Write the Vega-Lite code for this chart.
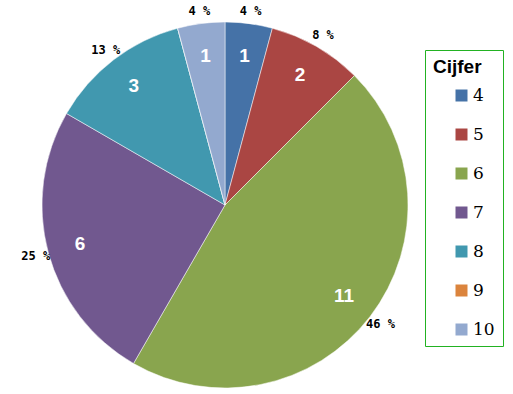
{
  "$schema": "https://vega.github.io/schema/vega-lite/v6.json",
  "width": 450,
  "height": 378,
  "autosize": {"type": "none"},
  "padding": {"left": 0, "top": 16, "right": 63, "bottom": 0},
  "background": "white",
  "data": {"values": [
    {"Cijfer": "4", "k": 4, "n": 1, "pct": "4 %"},
    {"Cijfer": "5", "k": 5, "n": 2, "pct": "8 %"},
    {"Cijfer": "6", "k": 6, "n": 11, "pct": "46 %"},
    {"Cijfer": "7", "k": 7, "n": 6, "pct": "25 %"},
    {"Cijfer": "8", "k": 8, "n": 3, "pct": "13 %"},
    {"Cijfer": "9", "k": 9, "n": 0, "pct": ""},
    {"Cijfer": "10", "k": 10, "n": 1, "pct": "4 %"}
  ]},
  "encoding": {
    "theta": {"field": "n", "type": "quantitative", "stack": true},
    "order": {"field": "k", "type": "quantitative"},
    "color": {
      "field": "Cijfer", "type": "nominal",
      "scale": {"domain": ["4","5","6","7","8","9","10"], "range": ["#4572A7","#AA4643","#89A54E","#71588F","#4198AF","#DB843D","#93A9CF"]},
      "legend": {
        "title": "Cijfer",
        "orient": "none",
        "legendX": 425,
        "legendY": 34,
        "strokeColor": "#22B222",
        "fillColor": "white",
        "padding": 8,
        "titleFont": "Liberation Sans",
        "titleFontSize": 19,
        "titleFontWeight": "bold",
        "titleColor": "black",
        "titlePadding": 10,
        "labelFont": "DejaVu Serif",
        "labelFontSize": 17,
        "labelColor": "black",
        "labelOffset": 3,
        "symbolType": "square",
        "symbolSize": 144,
        "symbolStrokeWidth": 0,
        "symbolOffset": 20,
        "rowPadding": 21,
        "labelLimit": 100
      }
    }
  },
  "layer": [
    {"mark": {"type": "arc", "outerRadius": 183, "stroke": "white", "strokeWidth": 0.5}},
    {
      "transform": [{"filter": "datum.n > 0"}],
      "mark": {"type": "text", "radius": 150, "font": "Liberation Sans", "fontSize": 19, "fontWeight": "bold", "fill": "white"},
      "encoding": {"text": {"field": "n", "type": "quantitative"}, "color": {"value": "white"}}
    },
    {
      "transform": [{"filter": "datum.n > 0"}],
      "mark": {"type": "text", "radius": 196, "font": "DejaVu Sans Mono", "fontSize": 12, "fontWeight": "bold"},
      "encoding": {"text": {"field": "pct", "type": "nominal"}, "color": {"value": "black"}}
    }
  ]
}
